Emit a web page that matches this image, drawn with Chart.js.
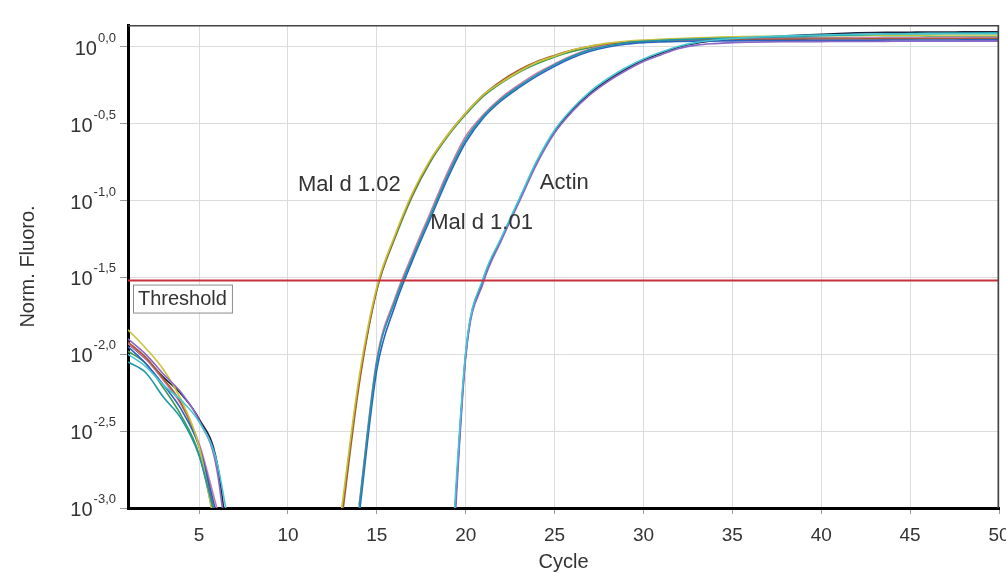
<!DOCTYPE html>
<html>
<head>
<meta charset="utf-8">
<script src="https://cdn.jsdelivr.net/npm/chart.js@4.4.1/dist/chart.umd.min.js"></script>
<style>
  html, body { margin: 0; padding: 0; background: #fff; }
</style>
</head>
<body>
<canvas id="chart" width="1006" height="573"></canvas>
<script>
// cycle numbers on the x axis
const cycles = [1, 2, 3, 4, 5, 6, 7, 8, 9, 10, 11, 12, 13, 14, 15, 16, 17, 18, 19, 20,
    21, 22, 23, 24, 25, 26, 27, 28, 29, 30, 31, 32, 33, 34, 35, 36, 37, 38, 39, 40,
    41, 42, 43, 44, 45, 46, 47, 48, 49, 50];

// log10 of normalised fluorescence (null = below zero / not shown)
const malD102A = [-1.84, -1.96, -2.10, -2.30, -2.60, -3.20, null, null, null, null, null, null,
    -3.02, -2.15, -1.56, -1.23, -0.95, -0.735, -0.57, -0.43, -0.31, -0.23, -0.16, -0.10, -0.06,
    -0.02, 0.005, 0.025, 0.037, 0.045, 0.05, 0.055, 0.06, 0.063, 0.066, 0.068, 0.07, 0.071, 0.072,
    0.073, 0.074, 0.075, 0.076, 0.076, 0.077, 0.077, 0.078, 0.078, 0.078, 0.078];
const malD102B = [-1.92, -2.02, -2.16, -2.32, -2.60, -3.10, null, null, null, null, null, null,
    -3.10, -2.20, -1.58, -1.24, -0.96, -0.74, -0.57, -0.43, -0.31, -0.22, -0.15, -0.095, -0.055,
    -0.02, 0.005, 0.02, 0.03, 0.038, 0.042, 0.045, 0.047, 0.048, 0.049, 0.05, 0.05, 0.051, 0.051,
    0.052, 0.052, 0.052, 0.053, 0.053, 0.053, 0.054, 0.054, 0.054, 0.055, 0.055];
const malD102C = [-1.98, -2.06, -2.22, -2.40, -2.65, -3.15, null, null, null, null, null, null,
    -3.06, -2.18, -1.58, -1.25, -0.97, -0.75, -0.58, -0.44, -0.32, -0.235, -0.165, -0.11, -0.065,
    -0.03, -0.005, 0.015, 0.028, 0.036, 0.042, 0.046, 0.049, 0.051, 0.053, 0.055, 0.057, 0.058, 0.059,
    0.06, 0.061, 0.062, 0.062, 0.063, 0.063, 0.064, 0.064, 0.064, 0.065, 0.065];
const malD101A = [-2.05, -2.12, -2.28, -2.42, -2.66, -3.10, null, null, null, null, null, null, null,
    -3.00, -2.05, -1.66, -1.37, -1.10, -0.83, -0.60, -0.45, -0.34, -0.255, -0.18, -0.115,
    -0.06, -0.018, 0.008, 0.028, 0.037, 0.043, 0.048, 0.052, 0.055, 0.058, 0.061, 0.064, 0.067, 0.07,
    0.073, 0.076, 0.079, 0.082, 0.085, 0.087, 0.089, 0.09, 0.091, 0.092, 0.092];
const malD101B = [-1.95, -2.06, -2.20, -2.36, -2.60, -3.05, null, null, null, null, null, null, null,
    -3.05, -2.10, -1.69, -1.39, -1.12, -0.85, -0.62, -0.46, -0.35, -0.265, -0.19, -0.125,
    -0.07, -0.028, 0.0, 0.018, 0.028, 0.033, 0.036, 0.038, 0.039, 0.04, 0.041, 0.042, 0.042, 0.043,
    0.043, 0.044, 0.044, 0.044, 0.045, 0.045, 0.045, 0.045, 0.046, 0.046, 0.046];
const malD101C = [-1.93, -2.03, -2.17, -2.33, -2.58, -3.00, null, null, null, null, null, null, null,
    -2.98, -2.03, -1.64, -1.35, -1.08, -0.81, -0.58, -0.44, -0.33, -0.245, -0.17, -0.11,
    -0.055, -0.014, 0.012, 0.03, 0.04, 0.045, 0.048, 0.05, 0.052, 0.053, 0.054, 0.055, 0.056, 0.057,
    0.058, 0.058, 0.059, 0.059, 0.06, 0.06, 0.06, 0.061, 0.061, 0.061, 0.061];
const actinA = [-1.93, -2.03, -2.15, -2.26, -2.42, -2.70, -3.60, null, null, null, null, null, null,
    null, null, null, null, null,
    -3.80, -2.00, -1.51, -1.25, -1.00, -0.75, -0.55, -0.41, -0.30, -0.215, -0.145, -0.085, -0.04,
    0.0, 0.025, 0.04, 0.05, 0.058, 0.065, 0.072, 0.078, 0.083, 0.088, 0.092, 0.094, 0.095, 0.096,
    0.097, 0.097, 0.098, 0.098, 0.098];
const actinB = [-2.00, -2.08, -2.20, -2.30, -2.44, -2.70, -3.35, null, null, null, null, null, null,
    null, null, null, null, null,
    -3.70, -1.98, -1.50, -1.24, -0.99, -0.74, -0.54, -0.40, -0.29, -0.205, -0.135, -0.078, -0.033,
    0.005, 0.03, 0.045, 0.055, 0.062, 0.068, 0.072, 0.075, 0.078, 0.08, 0.082, 0.083, 0.084, 0.085,
    0.085, 0.086, 0.086, 0.086, 0.087];
const actinC = [-1.90, -2.00, -2.13, -2.25, -2.43, -2.75, -3.70, null, null, null, null, null, null,
    null, null, null, null, null,
    -3.90, -2.02, -1.53, -1.26, -1.01, -0.76, -0.56, -0.42, -0.31, -0.225, -0.155, -0.095, -0.05,
    -0.01, 0.012, 0.022, 0.028, 0.031, 0.033, 0.034, 0.035, 0.035, 0.036, 0.036, 0.036, 0.037,
    0.037, 0.037, 0.037, 0.038, 0.038, 0.038];

const thresholdLog = -1.52;

const xTickValues = [5, 10, 15, 20, 25, 30, 35, 40, 45, 50];
const yTickValues = [-3.0, -2.5, -2.0, -1.5, -1.0, -0.5, 0.0];

const curveLabels = ['Mal d 1.02', 'Mal d 1.01', 'Actin'];

// first entry is drawn on top
const series = [
    { data: actinB, color: '#45c6d4' },
    { data: actinC, color: '#8a66c6' },
    { data: malD101A, color: '#1d97a6' },
    { data: malD102A, color: '#c8c23c' },
    { data: malD101B, color: '#2a62c0' },
    { data: malD102B, color: '#a55a30' },
    { data: malD101C, color: '#d478ac' },
    { data: malD102C, color: '#3a9a55' },
    { data: actinA, color: '#1c2340' }
];

const FONT = "'Liberation Sans', Arial, sans-serif";
const TEXT = '#333333';

const datasets = series.map(s => ({
    data: cycles.map((c, i) => ({ x: c, y: s.data[i] })),
    borderColor: s.color,
    borderWidth: 1.6,
    pointRadius: 0,
    cubicInterpolationMode: 'monotone',
    spanGaps: false
}));

datasets.unshift({
    data: [{ x: cycles[0], y: thresholdLog }, { x: cycles[cycles.length - 1], y: thresholdLog }],
    borderColor: '#c8303c',
    borderWidth: 2,
    pointRadius: 0,
    order: -1
});

const labelsPlugin = {
    id: 'qpcrLabels',
    afterDraw(chart) {
        const ctx = chart.ctx;
        const area = chart.chartArea;
        const xs = chart.scales.x;
        const ys = chart.scales.y;
        ctx.save();

        // thin frame on top and right
        ctx.strokeStyle = '#444';
        ctx.lineWidth = 1.5;
        ctx.beginPath();
        ctx.moveTo(area.left, area.top + 0.75);
        ctx.lineTo(area.right - 0.75, area.top + 0.75);
        ctx.lineTo(area.right - 0.75, area.bottom);
        ctx.stroke();

        // y tick labels as 10^x with comma decimals
        ctx.fillStyle = TEXT;
        ctx.textBaseline = 'alphabetic';
        yTickValues.forEach(v => {
            const y = ys.getPixelForValue(v);
            const sup = v.toFixed(1).replace('.', ',');
            ctx.font = '13px ' + FONT;
            const supW = ctx.measureText(sup).width;
            ctx.textAlign = 'right';
            ctx.fillText(sup, 116, y - 5);
            ctx.font = '20px ' + FONT;
            ctx.fillText('10', 116 - supW - 1, y + 8);
        });

        // threshold label box
        const ty = ys.getPixelForValue(thresholdLog);
        ctx.font = '20px ' + FONT;
        const tw = ctx.measureText('Threshold').width;
        const bx = area.left + 5, by = ty + 4;
        ctx.fillStyle = '#fff';
        ctx.fillRect(bx, by, tw + 10, 28);
        ctx.strokeStyle = '#8c8c8c';
        ctx.lineWidth = 1;
        ctx.strokeRect(bx + 0.5, by + 0.5, tw + 10, 28);
        ctx.fillStyle = TEXT;
        ctx.textAlign = 'left';
        ctx.textBaseline = 'middle';
        ctx.fillText('Threshold', bx + 5, by + 15);

        // curve names
        const spots = [[10.56, -0.9], [18.0, -1.145], [24.17, -0.885]];
        ctx.font = '22px ' + FONT;
        curveLabels.forEach((t, i) => {
            ctx.fillText(t, xs.getPixelForValue(spots[i][0]), ys.getPixelForValue(spots[i][1]));
        });

        ctx.restore();
    }
};

new Chart(document.getElementById('chart'), {
    type: 'line',
    data: { datasets: datasets },
    options: {
        responsive: false,
        animation: false,
        layout: { padding: { top: 25, right: 7, bottom: 0, left: 0 } },
        plugins: { legend: { display: false }, tooltip: { enabled: false } },
        scales: {
            x: {
                type: 'linear',
                min: 1,
                max: 50,
                afterBuildTicks: s => { s.ticks = xTickValues.map(v => ({ value: v })); },
                afterFit: s => { s.height = 65; s.paddingLeft = 0; s.paddingRight = 0; },
                grid: { color: '#dcdcdc', tickColor: '#9a9a9a', tickLength: 6 },
                border: { color: '#000', width: 3 },
                ticks: { color: TEXT, font: { family: FONT, size: 19 }, padding: 10, maxRotation: 0, autoSkip: false },
                title: { display: true, text: 'Cycle', color: TEXT, font: { family: FONT, size: 20, lineHeight: 1.1 }, padding: 0 }
            },
            y: {
                type: 'linear',
                min: -3,
                max: 0.143,
                afterBuildTicks: s => { s.ticks = yTickValues.map(v => ({ value: v })); },
                afterFit: s => { s.width = 128; },
                grid: { color: '#dcdcdc', tickColor: '#9a9a9a', tickLength: 8 },
                border: { color: '#000', width: 3 },
                ticks: { display: false },
                title: { display: true, text: 'Norm. Fluoro.', color: TEXT, font: { family: FONT, size: 20 }, padding: { top: 16, bottom: 0 } }
            }
        }
    },
    plugins: [labelsPlugin]
});
</script>
</body>
</html>
